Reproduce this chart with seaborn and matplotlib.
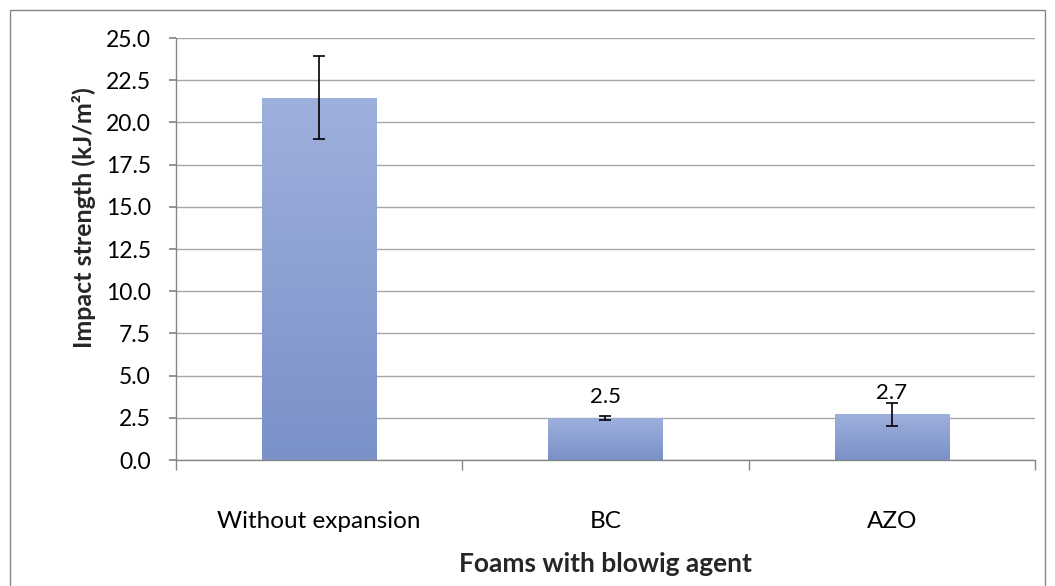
import numpy as np
import pandas as pd
import matplotlib
matplotlib.use("Agg")
import matplotlib.pyplot as plt
import seaborn as sns
from matplotlib.patches import Rectangle
from matplotlib.colors import LinearSegmentedColormap

# ---- data ----
categories = ["Without expansion", "BC", "AZO"]
impact = [21.47, 2.5, 2.7]
impact_err = [2.46, 0.1, 0.66]
show_label = [False, True, True]
y_ticks = [0.0, 2.5, 5.0, 7.5, 10.0, 12.5, 15.0, 17.5, 20.0, 22.5, 25.0]

sns.set_theme(style="white")
plt.rcParams['font.family'] = ['Lato', 'DejaVu Sans']

fig = plt.figure(figsize=(10.55, 5.86), dpi=100)
ax = fig.add_axes([0.1668, 0.215, 0.8142, 0.720])

df = pd.DataFrame({"cat": categories, "val": impact})
sns.barplot(data=df, x="cat", y="val", color="#8EA2D6", width=0.4,
            errorbar=None, ax=ax, zorder=2)

# gradient fill clipped to bars
cmap = LinearSegmentedColormap.from_list("g", ["#7A91C8", "#9EB0DC"])
grad = np.linspace(0, 1, 256).reshape(-1, 1)
for p in ax.patches:
    bb = p.get_bbox()
    im = ax.imshow(grad, cmap=cmap, origin="lower", aspect="auto",
                   extent=[bb.x0, bb.x1, bb.y0, bb.y1], zorder=2.5)
    im.set_clip_path(p)
    p.set_facecolor("none")
    p.set_edgecolor("none")

# error bars
centers = [p.get_x() + p.get_width() / 2 for p in ax.patches]
ax.errorbar(centers, impact, yerr=impact_err, fmt="none", ecolor="black",
            elinewidth=1.2, capsize=4.5, capthick=1.2, zorder=4)

# data labels
for c, v, s in zip(centers, impact, show_label):
    if s:
        ax.annotate(f"{v:.1f}", (c, v), xytext=(0, 8), textcoords="offset points",
                    ha="center", va="bottom", fontsize=16, color="black")

ax.set_xlim(-0.5, 2.5)
ax.set_ylim(0, 25)
ax.set_yticks(y_ticks)
ax.set_yticklabels([f"{t:.1f}" for t in y_ticks])
ax.yaxis.grid(True, color="#A6A6A6", linewidth=1.0)
ax.set_axisbelow(True)

for s in ["top", "right"]:
    ax.spines[s].set_visible(False)
for s in ["left", "bottom"]:
    ax.spines[s].set_color("#868686")
    ax.spines[s].set_linewidth(1.0)

ax.set_xticks([-0.5, 0.5, 1.5, 2.5], minor=True)
ax.tick_params(axis="x", which="major", length=0, labelsize=17.5, pad=37, colors="black")
ax.tick_params(axis="x", which="minor", length=7, color="#868686", bottom=True)
ax.tick_params(axis="y", which="major", length=5, color="#868686", left=True,
               labelsize=16.5, pad=13, labelcolor="black")

ax.set_xlabel("Foams with blowig agent", fontsize=19, fontweight="bold", labelpad=14)
ax.set_ylabel("Impact strength (kJ/m²)", fontsize=18, fontweight="bold", labelpad=8)
ax.yaxis.set_label_coords(-0.093, 0.575)

# outer chart border
fig.patches.append(Rectangle((10 / 1055, -0.01), 1035 / 1055, 1 - 10 / 586 + 0.01,
                             transform=fig.transFigure, fill=False,
                             edgecolor="#868686", linewidth=1.0))

fig.savefig("out.png", dpi=100, facecolor="white")
